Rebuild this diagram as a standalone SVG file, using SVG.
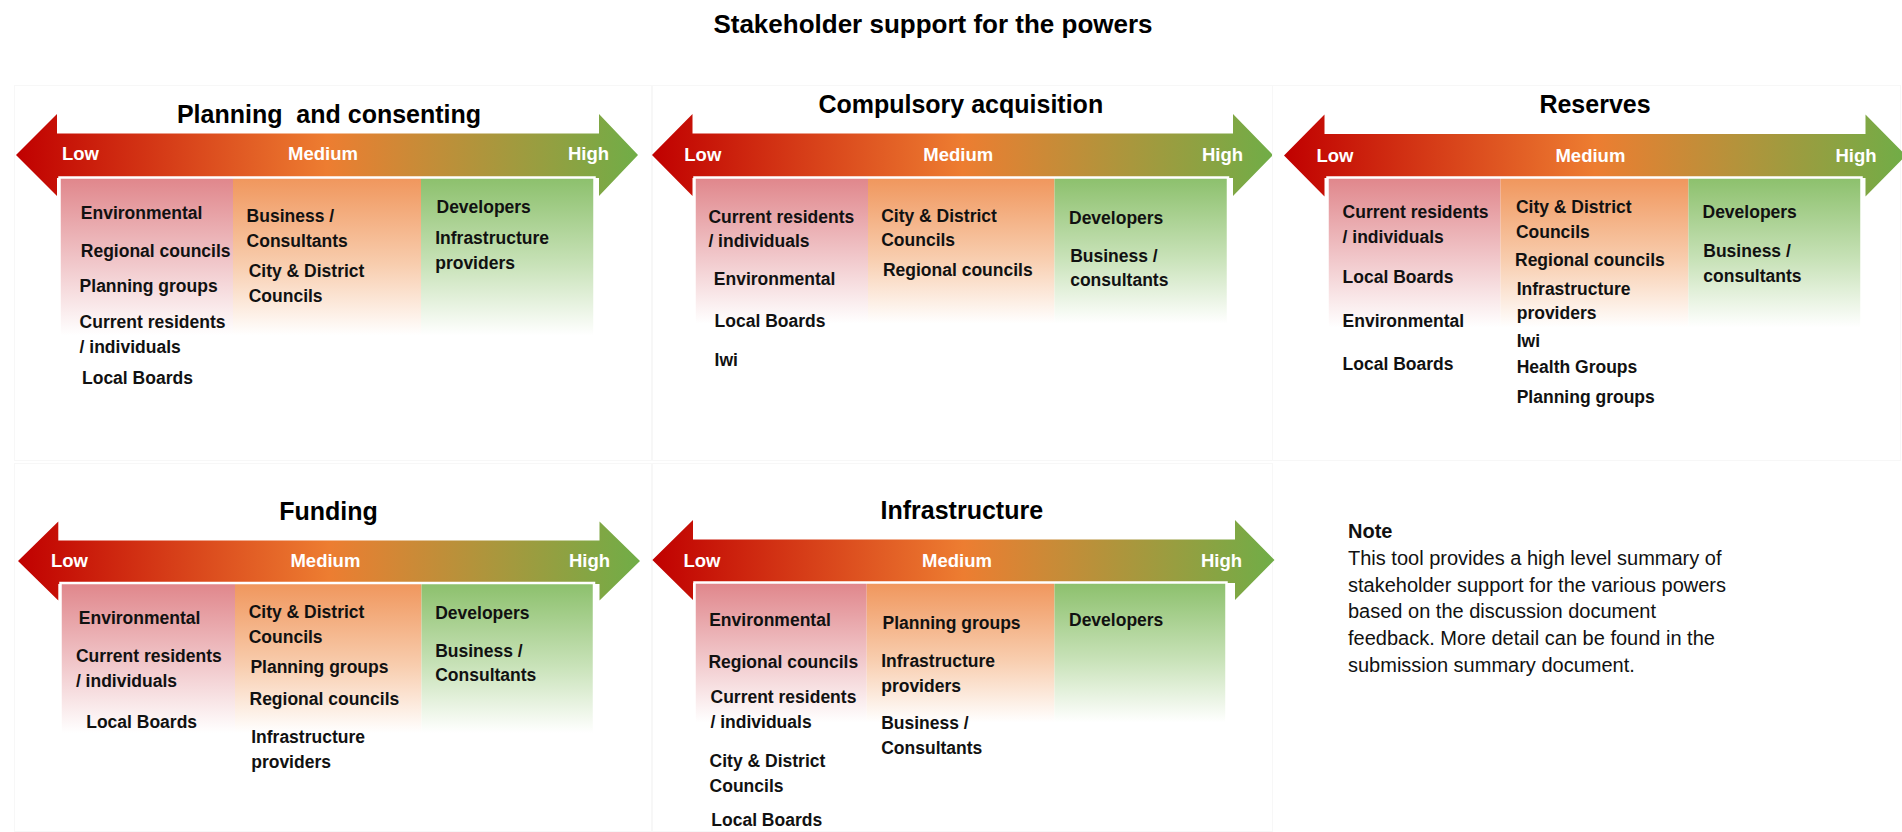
<svg xmlns="http://www.w3.org/2000/svg" width="1902" height="832" viewBox="0 0 1902 832">
<defs>
<linearGradient id="arrowGrad" x1="0" y1="0" x2="1" y2="0">
<stop offset="0" stop-color="#C00000"/>
<stop offset="0.5" stop-color="#ED7D31"/>
<stop offset="1" stop-color="#70AD47"/>
</linearGradient>
<linearGradient id="gLow" x1="0" y1="0" x2="0" y2="1">
<stop offset="0" stop-color="#E0868B"/>
<stop offset="0.55" stop-color="#F1C8CB"/>
<stop offset="1" stop-color="#FFFFFF"/>
</linearGradient>
<linearGradient id="gMed" x1="0" y1="0" x2="0" y2="1">
<stop offset="0" stop-color="#F0965C"/>
<stop offset="0.55" stop-color="#F8CDAE"/>
<stop offset="1" stop-color="#FFFFFF"/>
</linearGradient>
<linearGradient id="gHigh" x1="0" y1="0" x2="0" y2="1">
<stop offset="0" stop-color="#8CC06C"/>
<stop offset="0.55" stop-color="#C8E2B8"/>
<stop offset="1" stop-color="#FFFFFF"/>
</linearGradient>
</defs>
<style>
.panelbg{fill:none;stroke:#f7f7f7;stroke-width:1}
.arrow{fill:url(#arrowGrad)}
.box{fill:none;stroke:#ffffff;stroke-width:2.5}
.cLow{fill:url(#gLow)}
.cMed{fill:url(#gMed)}
.cHigh{fill:url(#gHigh)}
.main{font-family:"Liberation Sans",Arial,sans-serif;font-weight:bold;font-size:26px;fill:#000;text-anchor:middle}
.ptitle{font-family:"Liberation Sans",Arial,sans-serif;font-weight:bold;font-size:25px;fill:#000;text-anchor:middle}
.lvl{font-family:"Liberation Sans",Arial,sans-serif;font-weight:bold;font-size:18.5px;fill:#ffffff}
.mid{text-anchor:middle}
.end{text-anchor:end}
.item{font-family:"Liberation Sans",Arial,sans-serif;font-weight:bold;font-size:17.5px;fill:#111111}
.note{font-family:"Liberation Sans",Arial,sans-serif;font-size:20px;fill:#111111}
.noteh{font-weight:bold}
</style>
<rect width="1902" height="832" fill="#ffffff"/>
<text class="main" x="933" y="33">Stakeholder support for the powers</text>

<g id="planning-and-consenting">
<rect class="panelbg" x="14.5" y="85.5" width="637" height="375"/>
<text class="ptitle" x="329" y="122.7" xml:space="preserve">Planning  and consenting</text>
<path class="arrow" d="M16,155 L57,114 L57,133.5 L599,133.5 L599,114 L638,155 L599,196 L599,178 L57,178 L57,196 Z"/>
<rect class="cLow" x="59.5" y="177.5" width="173.5" height="158"/>
<rect class="cMed" x="233" y="177.5" width="188" height="158"/>
<rect class="cHigh" x="421" y="177.5" width="173.5" height="158"/>
<path class="box" d="M59.5,335.5 L59.5,177.5 L594.5,177.5 L594.5,335.5"/>
<text class="lvl" x="62" y="160">Low</text>
<text class="lvl mid" x="323" y="160">Medium</text>
<text class="lvl end" x="609" y="160">High</text>
<text class="item" x="80.8" y="219.3">Environmental</text>
<text class="item" x="80.8" y="256.7">Regional councils</text>
<text class="item" x="79.6" y="291.7">Planning groups</text>
<text class="item" x="79.6" y="328.3">Current residents</text>
<text class="item" x="79.6" y="353.3">/ individuals</text>
<text class="item" x="82" y="384.3">Local Boards</text>
<text class="item" x="246.6" y="221.7">Business /</text>
<text class="item" x="246.6" y="246.7">Consultants</text>
<text class="item" x="248.7" y="277.3">City &amp; District</text>
<text class="item" x="248.7" y="302.3">Councils</text>
<text class="item" x="436.5" y="213.3">Developers</text>
<text class="item" x="435.2" y="244">Infrastructure</text>
<text class="item" x="435.2" y="269">providers</text>
</g>

<g id="compulsory-acquisition">
<rect class="panelbg" x="652.5" y="85.5" width="620" height="375"/>
<text class="ptitle" x="960.8" y="113.3">Compulsory acquisition</text>
<path class="arrow" d="M652,155 L692.5,114 L692.5,133.5 L1233,133.5 L1233,114 L1273,155 L1233,196 L1233,178 L692.5,178 L692.5,196 Z"/>
<rect class="cLow" x="694.5" y="177.5" width="173.5" height="146"/>
<rect class="cMed" x="868" y="177.5" width="186.5" height="146"/>
<rect class="cHigh" x="1054.5" y="177.5" width="173.5" height="146"/>
<path class="box" d="M694.5,323.5 L694.5,177.5 L1228,177.5 L1228,323.5"/>
<text class="lvl" x="684.3" y="160.5">Low</text>
<text class="lvl mid" x="958.3" y="160.5">Medium</text>
<text class="lvl end" x="1243" y="160.5">High</text>
<text class="item" x="708.4" y="222.7">Current residents</text>
<text class="item" x="708.4" y="246.7">/ individuals</text>
<text class="item" x="713.8" y="285">Environmental</text>
<text class="item" x="714.6" y="326.7">Local Boards</text>
<text class="item" x="714.6" y="365.7">Iwi</text>
<text class="item" x="881.2" y="221.7">City &amp; District</text>
<text class="item" x="881.2" y="246">Councils</text>
<text class="item" x="882.9" y="276">Regional councils</text>
<text class="item" x="1069" y="224">Developers</text>
<text class="item" x="1070.2" y="261.7">Business /</text>
<text class="item" x="1070.2" y="286">consultants</text>
</g>

<g id="reserves">
<rect class="panelbg" x="1272.5" y="85.5" width="628" height="375"/>
<text class="ptitle" x="1595" y="113.3">Reserves</text>
<path class="arrow" d="M1284,155.5 L1324.5,114.5 L1324.5,134 L1865.5,134 L1865.5,114.5 L1906,155.5 L1865.5,196.5 L1865.5,178 L1324.5,178 L1324.5,196.5 Z"/>
<rect class="cLow" x="1327.5" y="177.5" width="173" height="150"/>
<rect class="cMed" x="1500.5" y="177.5" width="188" height="150"/>
<rect class="cHigh" x="1688.5" y="177.5" width="173" height="150"/>
<path class="box" d="M1327.5,327.5 L1327.5,177.5 L1861.5,177.5 L1861.5,327.5"/>
<text class="lvl" x="1316.4" y="161.5">Low</text>
<text class="lvl mid" x="1590.4" y="161.5">Medium</text>
<text class="lvl end" x="1876.6" y="161.5">High</text>
<text class="item" x="1342.6" y="218.3">Current residents</text>
<text class="item" x="1342.6" y="243.3">/ individuals</text>
<text class="item" x="1342.6" y="283.3">Local Boards</text>
<text class="item" x="1342.6" y="326.7">Environmental</text>
<text class="item" x="1342.6" y="370">Local Boards</text>
<text class="item" x="1515.9" y="213.3">City &amp; District</text>
<text class="item" x="1515.9" y="238.3">Councils</text>
<text class="item" x="1515" y="266">Regional councils</text>
<text class="item" x="1516.7" y="295">Infrastructure</text>
<text class="item" x="1516.7" y="319.3">providers</text>
<text class="item" x="1516.7" y="346.7">Iwi</text>
<text class="item" x="1516.7" y="372.7">Health Groups</text>
<text class="item" x="1516.7" y="403.3">Planning groups</text>
<text class="item" x="1702.5" y="218.3">Developers</text>
<text class="item" x="1703.3" y="256.7">Business /</text>
<text class="item" x="1703.3" y="281.7">consultants</text>
</g>

<g id="funding">
<rect class="panelbg" x="14.5" y="463.5" width="637" height="368"/>
<text class="ptitle" x="328.5" y="520">Funding</text>
<path class="arrow" d="M18,561 L58.3,521.5 L58.3,540.5 L599.5,540.5 L599.5,521.5 L640,561 L599.5,600.5 L599.5,584 L58.3,584 L58.3,600.5 Z"/>
<rect class="cLow" x="60.5" y="583" width="174.5" height="150"/>
<rect class="cMed" x="235" y="583" width="186.5" height="150"/>
<rect class="cHigh" x="421.5" y="583" width="172.5" height="150"/>
<path class="box" d="M60.5,733 L60.5,583 L594,583 L594,733"/>
<text class="lvl" x="51" y="567.3">Low</text>
<text class="lvl mid" x="325.4" y="567.3">Medium</text>
<text class="lvl end" x="610" y="567.3">High</text>
<text class="item" x="78.8" y="624.3">Environmental</text>
<text class="item" x="75.9" y="661.7">Current residents</text>
<text class="item" x="75.9" y="686.7">/ individuals</text>
<text class="item" x="86.2" y="728.3">Local Boards</text>
<text class="item" x="248.7" y="618.3">City &amp; District</text>
<text class="item" x="248.7" y="642.7">Councils</text>
<text class="item" x="250.4" y="673.3">Planning groups</text>
<text class="item" x="249.5" y="705">Regional councils</text>
<text class="item" x="251.2" y="743.3">Infrastructure</text>
<text class="item" x="251.2" y="768.3">providers</text>
<text class="item" x="435.2" y="619.3">Developers</text>
<text class="item" x="435.2" y="656.7">Business /</text>
<text class="item" x="435.2" y="681">Consultants</text>
</g>

<g id="infrastructure">
<rect class="panelbg" x="652.5" y="463.5" width="620" height="368"/>
<text class="ptitle" x="961.8" y="519.3">Infrastructure</text>
<path class="arrow" d="M652.4,560 L693,520 L693,539.5 L1235,539.5 L1235,520 L1274.5,560 L1235,600 L1235,583 L693,583 L693,600 Z"/>
<rect class="cLow" x="694.5" y="582.5" width="172.2" height="140"/>
<rect class="cMed" x="866.7" y="582.5" width="187.8" height="140"/>
<rect class="cHigh" x="1054.5" y="582.5" width="172" height="140"/>
<path class="box" d="M694.5,722.5 L694.5,582.5 L1226.5,582.5 L1226.5,722.5"/>
<text class="lvl" x="683.5" y="566.7">Low</text>
<text class="lvl mid" x="957" y="566.7">Medium</text>
<text class="lvl end" x="1242" y="566.7">High</text>
<text class="item" x="709.2" y="626">Environmental</text>
<text class="item" x="708.4" y="668.3">Regional councils</text>
<text class="item" x="710.5" y="703.3">Current residents</text>
<text class="item" x="710.5" y="728.3">/ individuals</text>
<text class="item" x="709.6" y="766.7">City &amp; District</text>
<text class="item" x="709.6" y="791.7">Councils</text>
<text class="item" x="711.3" y="826">Local Boards</text>
<text class="item" x="882.5" y="629.3">Planning groups</text>
<text class="item" x="881.2" y="667.3">Infrastructure</text>
<text class="item" x="881.2" y="691.7">providers</text>
<text class="item" x="881.2" y="729.3">Business /</text>
<text class="item" x="881.2" y="754">Consultants</text>
<text class="item" x="1069" y="626">Developers</text>
</g>

<g id="note">
<text class="note noteh" x="1348" y="538.3">Note</text>
<text class="note" x="1348" y="565">This tool provides a high level summary of</text>
<text class="note" x="1348" y="591.7">stakeholder support for the various powers</text>
<text class="note" x="1348" y="618.3">based on the discussion document</text>
<text class="note" x="1348" y="645">feedback. More detail can be found in the</text>
<text class="note" x="1348" y="671.7">submission summary document.</text>
</g>

<g id="connectors"></g>
</svg>
